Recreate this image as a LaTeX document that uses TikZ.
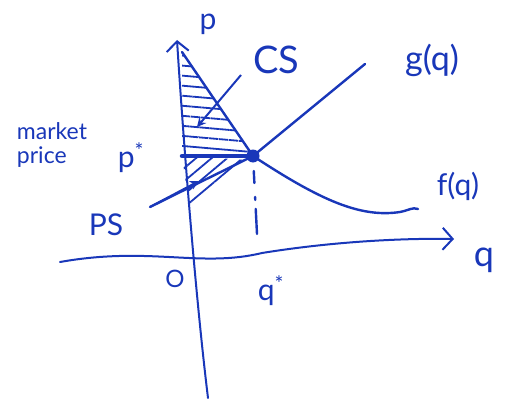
\documentclass[tikz,border=0pt]{standalone}
\usepackage{fontspec}
\setmainfont{Lato}
\usetikzlibrary{arrows.meta,patterns.meta}
\definecolor{ink}{RGB}{25,55,185}

\begin{document}
\begin{tikzpicture}[
  x=1pt, y=-1pt,
  axis/.style={draw=ink, line width=2pt, line cap=round,
    -{Straight Barb[length=10pt,width=22pt,line width=2pt]}},
  curve/.style={draw=ink, line width=2.4pt, line cap=round},
  arrow/.style={draw=ink, line width=2pt, -{Stealth[length=9pt,width=9pt]}},
  hatch/.style={pattern={Lines[angle=#1,distance=10pt,line width=1.8pt]}, pattern color=ink},
  lbl/.style={text=ink, inner sep=0pt, font=\fontsize{30}{30}\selectfont},
  note/.style={text=ink, inner sep=0pt, align=left, font=\fontsize{23}{24}\selectfont}
]
\useasboundingbox (0,0) rectangle (505,401);

% points of the graph
\coordinate (vtop) at (177,40);
\coordinate (vbot) at (208,398);
\coordinate (hl) at (60,262);
\coordinate (hm) at (262,253);
\coordinate (hr) at (454,239);
\coordinate (E) at (253,156);
\coordinate (pa) at (182,156);
\coordinate (qe) at (257,234);
\coordinate (dtop) at (182,52);
\coordinate (dend) at (418,209);
\coordinate (sbot) at (150,207);
\coordinate (stop) at (365,64);
\coordinate (pstip) at (199,181);
\coordinate (psbot) at (190,212);
\coordinate (pse) at (248,160);
\coordinate (cstail) at (241,75);
\coordinate (cstip) at (197,127);

% surplus areas
\fill[hatch=-5] (dtop) -- (pa) -- (E) -- cycle;
\fill[hatch=40] (pa) -- (pse) -- (psbot) -- cycle;

% axes
\draw[axis] (vbot) .. controls (196,300) and (184,150) .. (vtop);
\draw[axis] (hl) .. controls (150,246) and (200,268) .. (hm)
  .. controls (330,242) and (400,238) .. (hr);

% curves
\draw[curve] (dtop) -- (E) .. controls (320,200) and (360,218) .. (400,212)
  .. controls (410,210) and (412,207) .. (dend);
\draw[curve] (sbot) -- (E) -- (stop);
\draw[curve, line width=4.5pt] (pa) -- (E);
\draw[curve, dash pattern=on 0pt off 15pt on 12pt off 14pt on 3pt off 9pt on 16pt] (E) -- (qe);
\fill[ink] (E) circle (6.5pt);

% arrows
\draw[arrow] (cstail) -- (cstip);
\draw[arrow] (sbot) -- (pstip);

% labels
\node[lbl] (p) at (208,24) {p};
\node[lbl, font=\fontsize{38}{38}\selectfont] (cs) at (276,60) {CS};
\node[lbl, font=\fontsize{34}{34}\selectfont] (g) at (432,60) {g(q)};
\node[lbl] (f) at (458,186) {f(q)};
\node[lbl, font=\fontsize{36}{36}\selectfont] (q) at (484,260) {q};
\node[lbl, font=\fontsize{24}{24}\selectfont] (o) at (175,279) {O};
\node[lbl] (qs) at (271,291) {q\textsuperscript{*}};
\node[lbl] (ps) at (131,158) {p\textsuperscript{*}};
\node[lbl] (PS) at (106,225) {PS};
\node[note] (mp) at (52,145) {market\\price};
\end{tikzpicture}
\end{document}
